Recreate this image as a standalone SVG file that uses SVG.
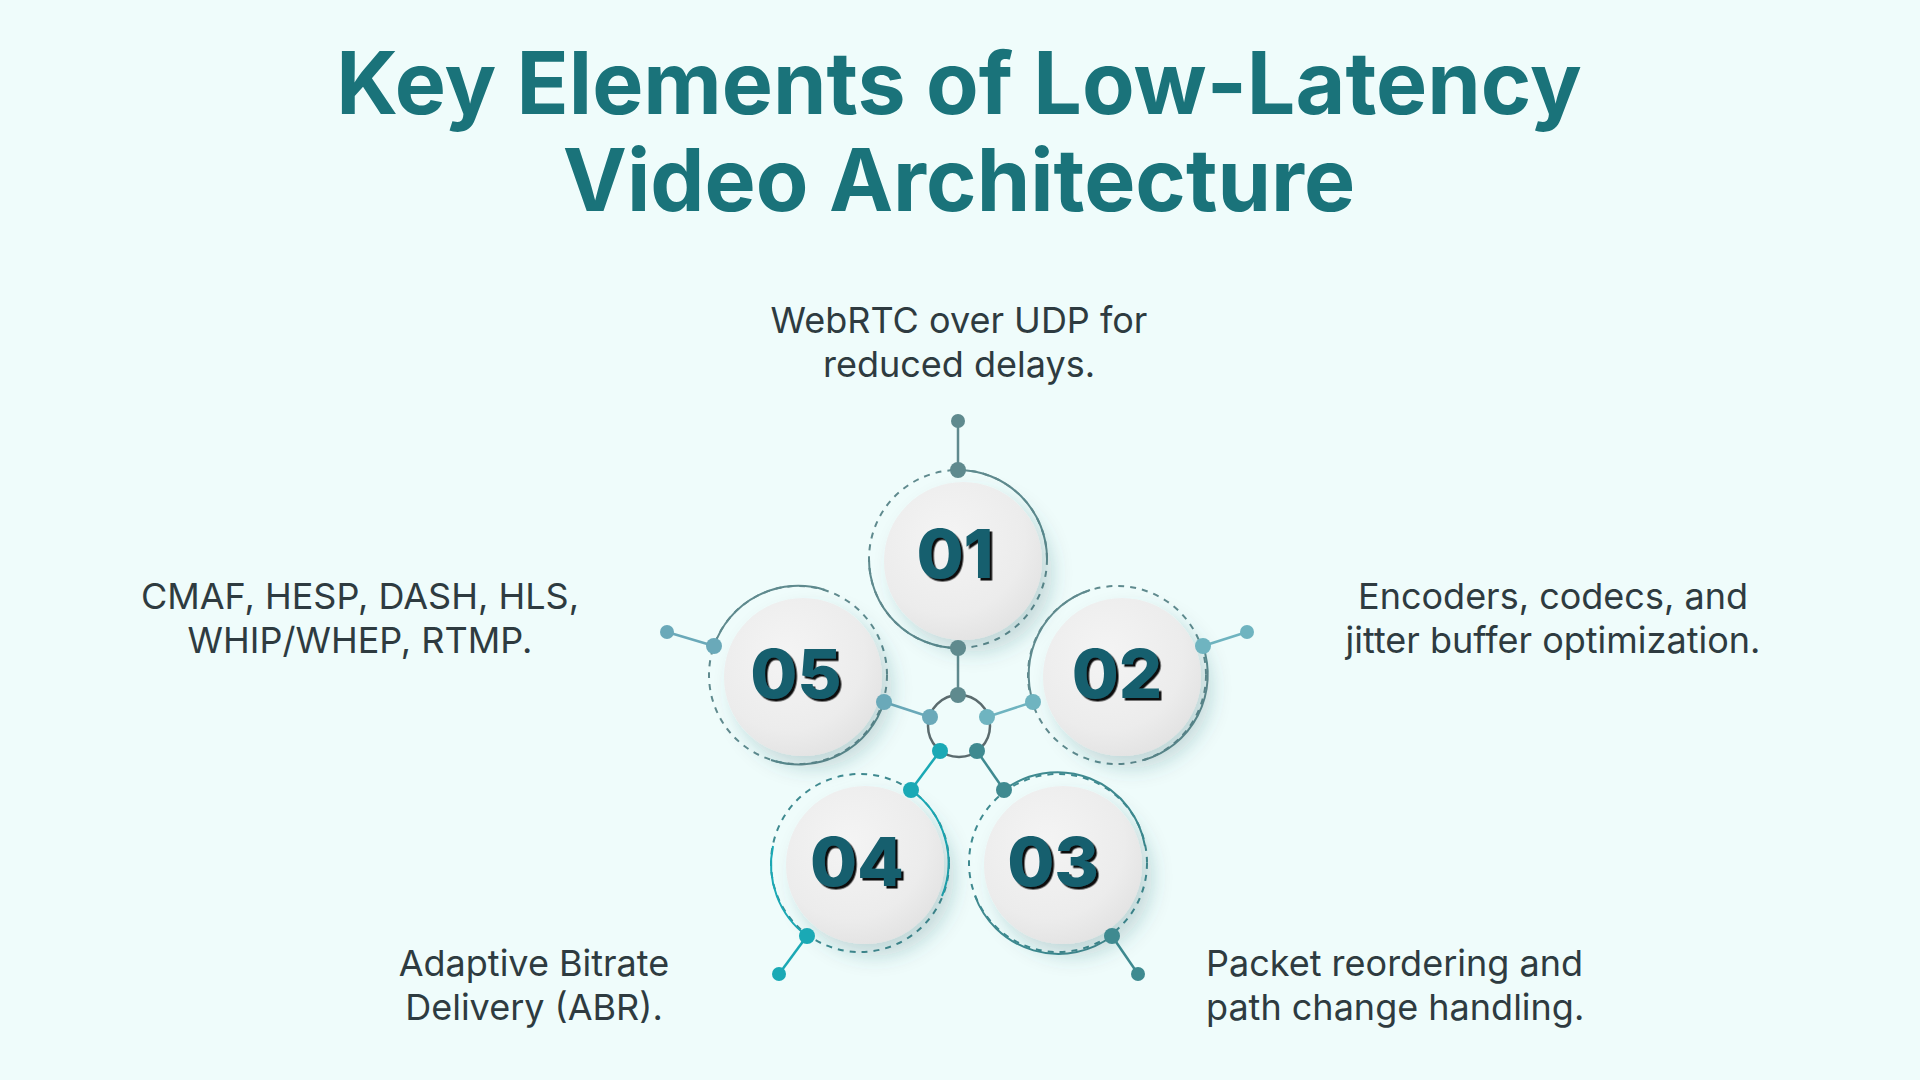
<svg xmlns="http://www.w3.org/2000/svg" width="1920" height="1080" viewBox="0 0 1920 1080">
<defs>
<radialGradient id="disc" cx="0.4" cy="0.35" r="0.7"><stop offset="0" stop-color="#f4f4f4"/><stop offset="0.7" stop-color="#ececec"/><stop offset="1" stop-color="#e2e2e2"/></radialGradient>
<filter id="sh" x="-50%" y="-50%" width="200%" height="200%"><feDropShadow dx="10" dy="12" stdDeviation="10" flood-color="#1a5a60" flood-opacity="0.22"/></filter>
<filter id="ts" x="-20%" y="-20%" width="140%" height="140%"><feDropShadow dx="2.5" dy="2.5" stdDeviation="0" flood-color="#0a0a0a" flood-opacity="1"/></filter>
<style>
.t{font-family:Inter,"Liberation Sans",sans-serif;}
.title{font-weight:700;font-size:86px;fill:#1a737a;text-anchor:middle}
.body{font-size:36px;fill:#2e3b40}
.num{font-weight:800;font-size:68px;fill:#175f6e;text-anchor:middle}
.ring{fill:none;stroke-width:2}
.dash{fill:none;stroke-width:2;stroke-dasharray:6 6}
</style>
</defs>
<rect width="1920" height="1080" fill="#effcfb"/>
<text class="t title" x="959" y="114">Key Elements of Low-Latency</text>
<text class="t title" x="959" y="211">Video Architecture</text>

<g id="connectors" stroke-width="2.5">
<circle cx="959" cy="726" r="31" fill="none" stroke="#5b6b6e" stroke-width="2.5"/>
<line x1="958" y1="421" x2="958" y2="470" stroke="#5f8a8e"/>
<line x1="958" y1="648" x2="958" y2="695" stroke="#5f8a8e"/>
<line x1="1247" y1="632" x2="1203" y2="646" stroke="#6fb4c0"/>
<line x1="1033" y1="702" x2="987" y2="717" stroke="#6fb4c0"/>
<line x1="667" y1="632" x2="714" y2="646" stroke="#6aa9b9"/>
<line x1="884" y1="702" x2="930" y2="717" stroke="#6aa9b9"/>
<line x1="940" y1="751" x2="911" y2="790" stroke="#1aa9b5"/>
<line x1="807" y1="936" x2="779" y2="974" stroke="#1aa9b5"/>
<line x1="977" y1="751" x2="1004" y2="790" stroke="#3f8a90"/>
<line x1="1112" y1="936" x2="1138" y2="974" stroke="#3f8a90"/>
</g>

<g id="n1">
<circle class="dash" cx="958" cy="559" r="89" stroke="#5f8a8e"/>
<path class="ring" stroke="#5f8a8e" d="M958 470 A89 89 0 0 1 1047 559 M958 648 A89 89 0 0 1 869 559"/>
<circle cx="963" cy="561" r="79" fill="url(#disc)" filter="url(#sh)"/>
<g fill="#5f8a8e"><circle cx="958" cy="421" r="7"/><circle cx="958" cy="470" r="8"/><circle cx="958" cy="648" r="8"/><circle cx="958" cy="695" r="8"/></g>
<text class="t num" x="955" y="578" filter="url(#ts)">01</text>
<text class="t body" x="959" y="333" text-anchor="middle">WebRTC over UDP for</text>
<text class="t body" x="959" y="377" text-anchor="middle">reduced delays.</text>
</g>

<g id="n2">
<circle class="dash" cx="1117" cy="675" r="89" stroke="#5f8a8e"/>
<path class="ring" stroke="#5f8a8e" d="M1033 702 A89 89 0 0 1 1090 590 M1203 646 A89 89 0 0 1 1144 760"/>
<circle cx="1122" cy="677" r="79" fill="url(#disc)" filter="url(#sh)"/>
<g fill="#6fb4c0"><circle cx="1247" cy="632" r="7"/><circle cx="1203" cy="646" r="8"/><circle cx="1033" cy="702" r="8"/><circle cx="987" cy="717" r="8"/></g>
<text class="t num" x="1117" y="698" filter="url(#ts)">02</text>
<text class="t body" x="1553" y="609" text-anchor="middle">Encoders, codecs, and</text>
<text class="t body" x="1553" y="653" text-anchor="middle">jitter buffer optimization.</text>
</g>

<g id="n3">
<circle class="dash" cx="1058" cy="863" r="89" stroke="#3f8a90"/>
<path class="ring" stroke="#3f8a90" d="M1004 790 A89 89 0 0 1 1145 846 M1112 936 A89 89 0 0 1 975 896"/>
<circle cx="1063" cy="865" r="79" fill="url(#disc)" filter="url(#sh)"/>
<g fill="#3f8a90"><circle cx="1138" cy="974" r="7"/><circle cx="1112" cy="936" r="8"/><circle cx="1004" cy="790" r="8"/><circle cx="977" cy="751" r="8"/></g>
<text class="t num" x="1053" y="886" filter="url(#ts)">03</text>
<text class="t body" x="1206" y="976">Packet reordering and</text>
<text class="t body" x="1206" y="1020">path change handling.</text>
</g>

<g id="n4">
<circle class="dash" cx="860" cy="863" r="89" stroke="#3f8a90"/>
<path class="ring" stroke="#1aa9b5" d="M911 790 A89 89 0 0 1 942 896 M807 936 A89 89 0 0 1 773 846"/>
<circle cx="865" cy="865" r="79" fill="url(#disc)" filter="url(#sh)"/>
<g fill="#1aa9b5"><circle cx="779" cy="974" r="7"/><circle cx="807" cy="936" r="8"/><circle cx="911" cy="790" r="8"/><circle cx="940" cy="751" r="8"/></g>
<text class="t num" x="857" y="886" filter="url(#ts)">04</text>
<text class="t body" x="534" y="976" text-anchor="middle">Adaptive Bitrate</text>
<text class="t body" x="534" y="1020" text-anchor="middle">Delivery (ABR).</text>
</g>

<g id="n5">
<circle class="dash" cx="798" cy="675" r="89" stroke="#5f8a8e"/>
<path class="ring" stroke="#5f8a8e" d="M714 646 A89 89 0 0 1 825 590 M884 702 A89 89 0 0 1 771 760"/>
<circle cx="803" cy="677" r="79" fill="url(#disc)" filter="url(#sh)"/>
<g fill="#6aa9b9"><circle cx="667" cy="632" r="7"/><circle cx="714" cy="646" r="8"/><circle cx="884" cy="702" r="8"/><circle cx="930" cy="717" r="8"/></g>
<text class="t num" x="796" y="698" filter="url(#ts)">05</text>
<text class="t body" x="360" y="609" text-anchor="middle">CMAF, HESP, DASH, HLS,</text>
<text class="t body" x="360" y="653" text-anchor="middle">WHIP/WHEP, RTMP.</text>
</g>
</svg>
